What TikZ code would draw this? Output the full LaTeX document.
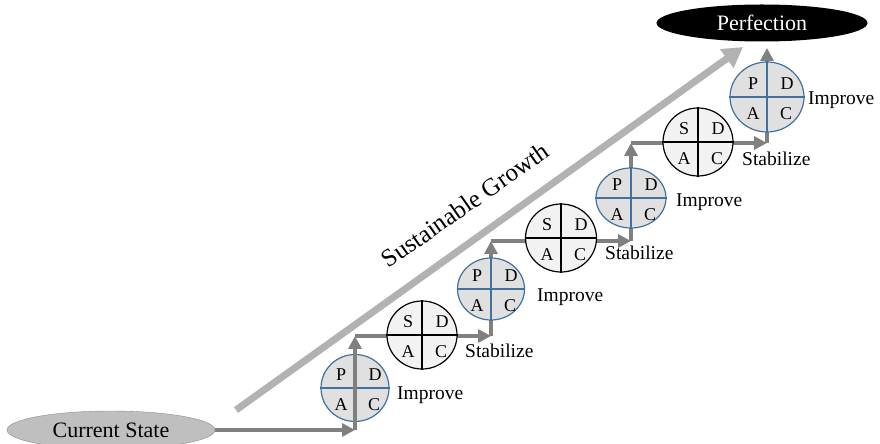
\documentclass[tikz,border=0pt]{standalone}
\usepackage{fontspec}
\setmainfont{Liberation Serif}
\usepackage{xcolor}
\usepackage{tikz}
\usetikzlibrary{arrows.meta,shapes.geometric}
\definecolor{pdcablue}{HTML}{41719C}

\begin{document}
\begin{tikzpicture}[x=1pt, y=1pt,
  stair/.style={draw=gray, line width=4pt, -{Triangle[length=13pt,width=13pt]}},
  improve/.style={ellipse, draw=pdcablue, line width=1.2pt, fill=black!12, inner sep=0},
  stabilize/.style={ellipse, draw=black, line width=1.2pt, fill=black!5, inner sep=0},
  improve-x/.style={draw=pdcablue, line width=1.2pt},
  stabilize-x/.style={draw=black, line width=1.2pt},
  quad/.style={font=\fontsize{18}{18}\selectfont, inner sep=0},
  lbl/.style={anchor=west, font=\fontsize{19.5}{20}\selectfont, inner sep=0}
]
\useasboundingbox (0,0) rectangle (880,444);
\clip (0,0) rectangle (880,444);
% start and goal
\node[ellipse, draw=black!45, fill=black!25, minimum width=208pt, minimum height=38pt,
  font=\fontsize{22}{22}\selectfont] (cur) at (111,14) {Current State};
\node[ellipse, fill=black, text=white, minimum width=211pt, minimum height=37pt,
  font=\fontsize{22}{22}\selectfont] (perf) at (762,421) {Perfection};
% growth arrow
\coordinate (sgA) at (236,34);
\coordinate (sgB) at (743,397);
\draw[black!30, line width=7pt, -{Triangle[length=20pt,width=22pt]}] (sgA) -- (sgB);
\node[rotate=35, font=\fontsize{25}{25}\selectfont] (sg) at (465,239) {Sustainable Growth};
% staircase
\coordinate (c1) at (355,14);
\coordinate (c2) at (355,108);
\coordinate (c3) at (491,108);
\coordinate (c4) at (491,203);
\coordinate (c5) at (631,203);
\coordinate (c6) at (631,301);
\coordinate (c7) at (767,301);
\coordinate (c8) at (767,396);
\foreach \a/\b in {c2/c3, c3/c4, c4/c5, c5/c6, c6/c7, c7/c8}
  \draw[stair] (\a) -- (\b);
% cycles
\foreach \n/\st/\x/\y/\w/\h/\ltr in {I1/improve/355/56/68/67/P, S1/stabilize/422/109/70/68/S,
    I2/improve/491/155/67/62/P, S2/stabilize/561/206/71/68/S, I3/improve/631/246/70/60/P,
    S3/stabilize/698/302/70/68/S, I4/improve/767/347/74/70/P} {
  \node[\st, minimum width=\w pt, minimum height=\h pt] (\n) at (\x,\y) {};
  \draw[\st-x] (\n.west) -- (\n.east) (\n.north) -- (\n.south);
  \node[quad] (\n-tl) at (\x-14,\y+13) {\ltr};
  \node[quad] (\n-tr) at (\x+20,\y+13) {D};
  \node[quad] (\n-bl) at (\x-14,\y-17) {A};
  \node[quad] (\n-br) at (\x+19,\y-17) {C};
}
\draw[stair] (cur.east) -- (c1);
\draw[stair] (c1) -- (c2);
% labels
\node[lbl] (imp1) at (397,49) {Improve};
\node[lbl] (imp2) at (537,147) {Improve};
\node[lbl] (imp3) at (676,242) {Improve};
\node[lbl] (imp4) at (808,344) {Improve};
\node[lbl] (stb1) at (465,93) {Stabilize};
\node[lbl] (stb2) at (605,191) {Stabilize};
\node[lbl] (stb3) at (742,285) {Stabilize};
\end{tikzpicture}
\end{document}
